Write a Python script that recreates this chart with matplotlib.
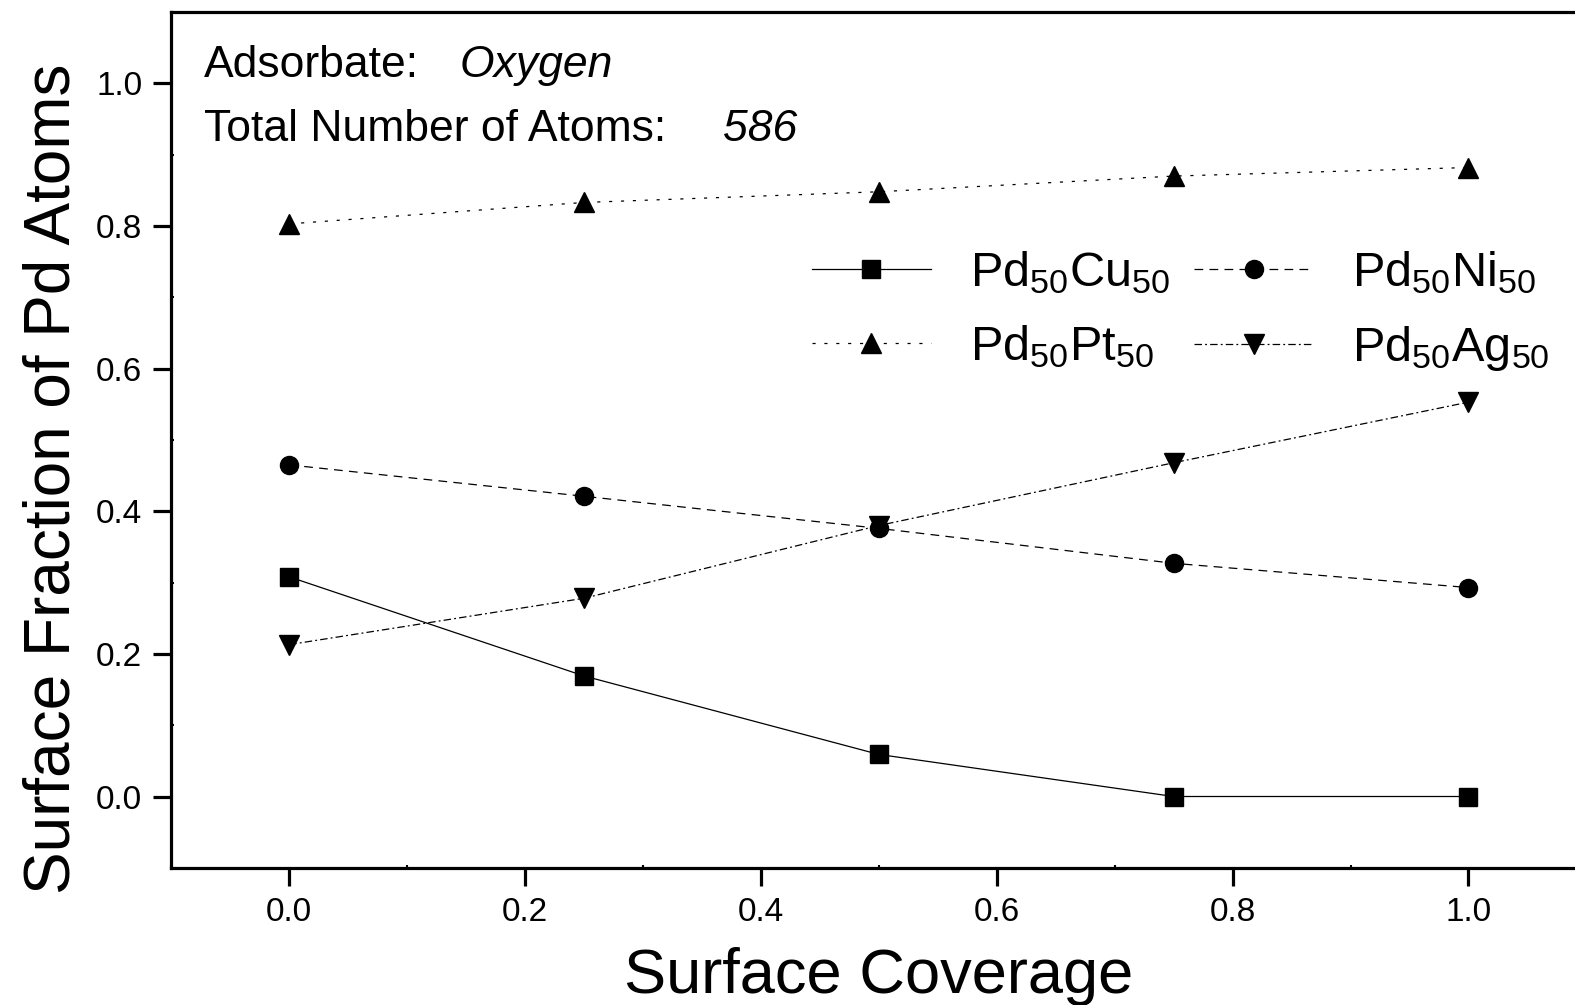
import matplotlib.pyplot as plt
from matplotlib.ticker import MultipleLocator

plt.rcParams['font.family'] = ['Liberation Sans', 'DejaVu Sans']
plt.rcParams['mathtext.fontset'] = 'custom'
plt.rcParams['mathtext.rm'] = 'Liberation Sans'
plt.rcParams['mathtext.it'] = 'Liberation Sans:italic'

coverage = [0.0, 0.25, 0.5, 0.75, 1.0]
pd_cu = [0.308, 0.169, 0.059, 0.0, 0.0]
pd_ni = [0.465, 0.421, 0.376, 0.327, 0.293]
pd_pt = [0.803, 0.833, 0.848, 0.870, 0.882]
pd_ag = [0.213, 0.278, 0.380, 0.468, 0.553]

labels = [r'Pd$_{50}$Cu$_{50}$', r'Pd$_{50}$Ni$_{50}$',
          r'Pd$_{50}$Pt$_{50}$', r'Pd$_{50}$Ag$_{50}$']
xticks = [0.0, 0.2, 0.4, 0.6, 0.8, 1.0]
yticks = [0.0, 0.2, 0.4, 0.6, 0.8, 1.0]

fig = plt.figure(figsize=(15.75, 10.05), dpi=100)
ax = fig.add_axes([0.1088, 0.1365, 0.8984, 0.8515])

ms = 13
lw = 0.9
l_cu, = ax.plot(coverage, pd_cu, '-', color='black', lw=lw, marker='s', ms=ms, label=labels[0])
l_ni, = ax.plot(coverage, pd_ni, color='black', lw=lw, marker='o', ms=ms, label=labels[1],
                dashes=(7, 5))
l_pt, = ax.plot(coverage, pd_pt, color='black', lw=lw, marker='^', ms=ms + 2, label=labels[2],
                dashes=(2.5, 7))
l_ag, = ax.plot(coverage, pd_ag, color='black', lw=lw, marker='v', ms=ms + 2, label=labels[3],
                dashes=(6, 2.5, 1.5, 2.5))

ax.set_xlim(-0.1, 1.1)
ax.set_ylim(-0.1, 1.1)
ax.set_xticks(xticks)
ax.set_yticks(yticks)
ax.xaxis.set_minor_locator(MultipleLocator(0.1))
ax.yaxis.set_minor_locator(MultipleLocator(0.1))

for s in ax.spines.values():
    s.set_linewidth(2.3)
ax.tick_params(which='major', direction='out', length=13, width=2.3,
               labelsize=24, pad=8)
ax.tick_params(which='minor', direction='in', length=2.5, width=1.5)

ax.set_xlabel('Surface Coverage', fontsize=45.5, labelpad=14)
ax.set_ylabel('Surface Fraction of Pd Atoms', fontsize=46)
ax.yaxis.set_label_coords(-0.0625, 0.455)

# annotation text, plain part + italic value
ax.text(-0.0724, 1.0085, 'Adsorbate:', fontsize=32, va='baseline', ha='left')
ax.text(0.1448, 1.0085, 'Oxygen', fontsize=32, style='italic', va='baseline', ha='left')
ax.text(-0.0724, 0.9197, 'Total Number of Atoms:', fontsize=32, va='baseline', ha='left')
ax.text(0.368, 0.9197, '586', fontsize=32, style='italic', va='baseline', ha='left')

ax.legend([l_cu, l_pt, l_ni, l_ag], [labels[0], labels[2], labels[1], labels[3]],
          loc='upper left', bbox_to_anchor=(0.4527, 0.723), ncol=2, frameon=False,
          fontsize=35, handlelength=2.45, handletextpad=0.8, columnspacing=0.5,
          labelspacing=0.57, borderaxespad=0, borderpad=0)

fig.savefig('out.png', dpi=100)
